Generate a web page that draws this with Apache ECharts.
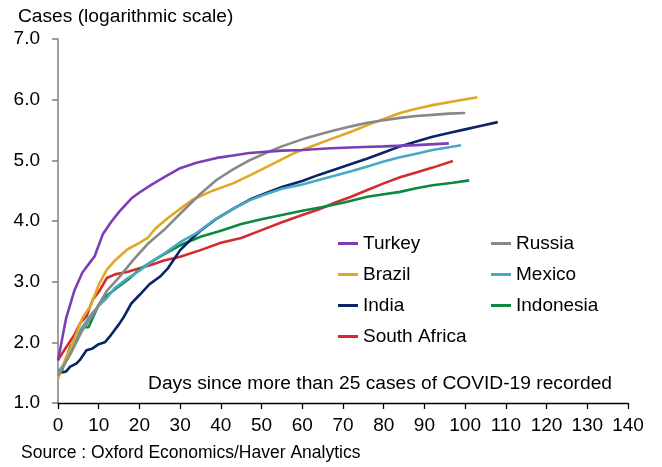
<!DOCTYPE html>
<html>
<head>
<meta charset="utf-8">
<script src="https://cdn.jsdelivr.net/npm/echarts@6/dist/echarts.min.js"></script>
<style>html,body{margin:0;padding:0;background:#fff}#c{width:662px;height:467px}</style>
</head>
<body>
<div id="c"></div>
<script>
var seriesNames = ['Turkey','Russia','Brazil','Mexico','India','Indonesia','South Africa'];
var xTicks = [0,10,20,30,40,50,60,70,80,90,100,110,120,130,140];
var yTicks = [1,2,3,4,5,6,7];

var turkey = [[0,1.7],[1,2.05],[2,2.4],[4,2.85],[6,3.15],[8,3.33],[9,3.42],[10,3.6],[11,3.78],[13,3.98],[15,4.15],[18,4.37],[20,4.47],[23,4.6],[26,4.72],[30,4.87],[34,4.96],[39,5.04],[43,5.08],[47,5.12],[55,5.16],[60,5.17],[67,5.2],[75,5.22],[80,5.23],[88,5.25],[96,5.28]];
var russia = [[0,1.45],[3,1.8],[6,2.2],[9,2.5],[12,2.85],[15,3.07],[18.5,3.36],[22,3.62],[26,3.85],[30,4.12],[35,4.45],[39,4.68],[43,4.85],[47,5.0],[51,5.12],[55,5.23],[61,5.37],[67,5.48],[72,5.56],[76,5.62],[80,5.66],[84,5.7],[88,5.73],[92,5.75],[96,5.77],[100,5.78]];
var brazil = [[0,1.4],[2,1.75],[4,2.05],[6,2.4],[8,2.6],[10,2.95],[12,3.2],[14,3.35],[17,3.53],[20,3.64],[22,3.72],[24,3.88],[27,4.05],[30,4.2],[33,4.35],[38,4.5],[43,4.62],[48,4.78],[53,4.95],[58,5.12],[63,5.25],[67,5.35],[72,5.47],[76,5.58],[80,5.68],[84,5.78],[88,5.85],[92,5.91],[97,5.97],[103,6.04]];
var mexico = [[0,1.5],[2,1.7],[4,2.0],[6,2.25],[8,2.45],[10,2.6],[12,2.73],[14,2.9],[17,3.05],[20,3.18],[23,3.33],[26,3.46],[30,3.65],[34,3.8],[38,4.0],[43,4.2],[47,4.34],[51,4.44],[55,4.53],[60,4.6],[67,4.73],[72,4.82],[76,4.9],[80,4.98],[84,5.05],[88,5.11],[92,5.17],[99,5.25]];
var india = [[0,1.49],[2,1.52],[3,1.6],[4.5,1.65],[5.5,1.72],[7,1.87],[8.5,1.9],[10,1.97],[11.5,2.0],[13,2.12],[15,2.3],[16,2.4],[18,2.64],[20,2.78],[22.5,2.96],[25,3.08],[27,3.22],[29,3.42],[30,3.52],[33,3.72],[35,3.84],[39,4.04],[43,4.2],[47,4.35],[51,4.46],[55,4.56],[60,4.66],[64,4.76],[68,4.85],[72,4.94],[76,5.03],[80,5.13],[84,5.23],[88,5.31],[92,5.39],[96,5.45],[100,5.51],[104,5.57],[108,5.63]];
var indonesia = [[0,1.54],[1,1.54],[3,1.93],[5,2.12],[6,2.25],[7.5,2.25],[9,2.47],[10,2.62],[12,2.77],[14.5,2.9],[17.5,3.05],[20,3.2],[23,3.33],[26,3.45],[30,3.6],[35,3.74],[40,3.84],[45,3.95],[50,4.03],[55,4.1],[60,4.17],[65,4.23],[70,4.3],[76,4.4],[80,4.44],[84,4.48],[88,4.54],[92,4.59],[97,4.63],[101,4.67]];
var southAfrica = [[0,1.71],[2,1.92],[4,2.12],[5.5,2.32],[7,2.43],[8.5,2.7],[10,2.83],[12,3.06],[14,3.12],[17,3.16],[20,3.22],[23,3.28],[26,3.35],[30,3.41],[35,3.52],[40,3.64],[45,3.72],[50,3.85],[55,3.98],[60,4.1],[64,4.19],[68,4.3],[72,4.4],[76,4.51],[80,4.62],[84,4.72],[88,4.8],[92,4.88],[97,4.99]];

var seriesData = [turkey, russia, brazil, mexico, india, indonesia, southAfrica];
var colors = ['#7B3FB5','#888888','#E0A824','#4BA8C4','#0A2466','#0A8A40','#D42A32'];

var FONT = "'Liberation Sans', Arial, sans-serif";
var chart = echarts.init(document.getElementById('c'), null, {renderer:'canvas'});

var series = seriesNames.map(function(n, i){
  return {
    name: n, type: 'line', data: seriesData[i], showSymbol: false, symbol: 'none',
    smooth: false, lineStyle: {width: 2.6, color: colors[i]}, itemStyle: {color: colors[i]},
    z: 10 - i
  };
});

var legendCommon = {
  orient: 'vertical', padding: 0, itemWidth: 20, itemHeight: 3, itemGap: 12,
  icon: 'rect',
  textStyle: {fontFamily: FONT, fontSize: 19, color: '#000', lineHeight: 19}
};

chart.setOption({
  animation: false,
  backgroundColor: '#fff',
  color: colors,
  title: [
    {text: 'Cases (logarithmic scale)', left: 18, top: 7, padding: 0,
     textStyle: {fontFamily: FONT, fontSize: 19.2, fontWeight: 'normal', color: '#000'}},
    {text: 'Days since more than 25 cases of COVID-19 recorded', right: 50, top: 374, padding: 0,
     textStyle: {fontFamily: FONT, fontSize: 19.2, fontWeight: 'normal', color: '#000'}},
    {text: 'Source : Oxford Economics/Haver Analytics', left: 21, top: 444, padding: 0,
     textStyle: {fontFamily: FONT, fontSize: 17.5, fontWeight: 'normal', color: '#000'}}
  ],
  legend: [
    Object.assign({}, legendCommon, {left: 338, top: 234, data: ['Turkey','Brazil','India','South Africa']}),
    Object.assign({}, legendCommon, {left: 491, top: 234, data: ['Russia','Mexico','Indonesia']})
  ],
  grid: {left: 58, right: 34, top: 39, bottom: 64, containLabel: false},
  xAxis: {
    type: 'value', min: xTicks[0], max: xTicks[xTicks.length-1], interval: 10,
    axisLine: {show: true, onZero: false, lineStyle: {color: '#000', width: 1.3}},
    axisTick: {show: true, length: 6, lineStyle: {color: '#000', width: 1.3}},
    axisLabel: {margin: 13, fontFamily: FONT, fontSize: 19, color: '#000'},
    splitLine: {show: false}
  },
  yAxis: {
    type: 'value', min: yTicks[0], max: yTicks[yTicks.length-1], interval: 1,
    axisLine: {show: true, lineStyle: {color: '#808080', width: 1.5}},
    axisTick: {show: true, length: 6, lineStyle: {color: '#808080', width: 1.5}},
    axisLabel: {margin: 18, fontFamily: FONT, fontSize: 19, color: '#000',
      formatter: function(v){ return v.toFixed(1); }},
    splitLine: {show: false}
  },
  series: series
});
</script>
</body>
</html>
